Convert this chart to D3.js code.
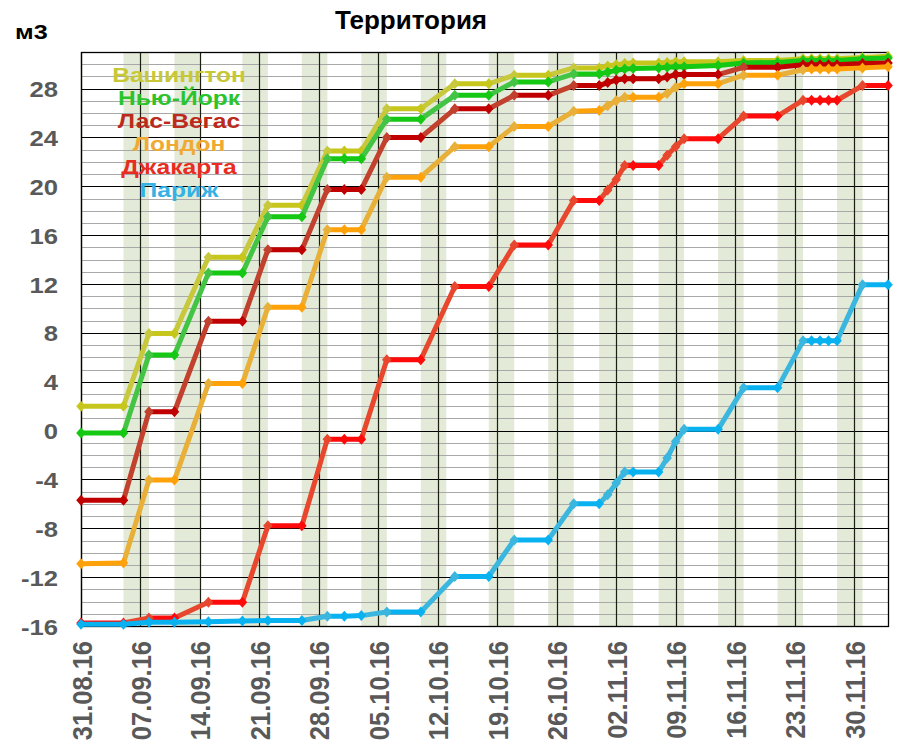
<!DOCTYPE html>
<html><head><meta charset="utf-8">
<script src="https://cdn.jsdelivr.net/npm/d3@7"></script>
<style>
body{margin:0;background:#fff}
svg{display:block}
text{font-family:"Liberation Sans",Arial,sans-serif;font-weight:bold}
</style>
</head><body>
<svg id="c" width="906" height="754"></svg>
<script>
// ---------------- DATA ----------------
const dates = ["31.08.2016","05.09.2016","08.09.2016","11.09.2016","15.09.2016","19.09.2016","22.09.2016","26.09.2016",
  "29.09.2016","01.10.2016","03.10.2016","06.10.2016","10.10.2016","14.10.2016","18.10.2016","21.10.2016","25.10.2016",
  "28.10.2016","31.10.2016","01.11.2016","02.11.2016","03.11.2016","04.11.2016","07.11.2016","08.11.2016","09.11.2016",
  "10.11.2016","14.11.2016","17.11.2016","21.11.2016","24.11.2016","25.11.2016","26.11.2016","27.11.2016","28.11.2016",
  "01.12.2016","04.12.2016"];

const washington = [2.0,2.0,7.95,7.95,14.2,14.2,18.45,18.45,22.9,22.9,22.9,26.35,26.35,28.4,28.4,29.1,29.1,29.7,29.7,
  29.85,29.95,30.05,30.1,30.1,30.15,30.2,30.2,30.2,30.3,30.3,30.45,30.45,30.45,30.45,30.45,30.55,30.65];
const newYork = [-0.2,-0.2,6.2,6.2,12.9,12.9,17.5,17.5,22.25,22.25,22.25,25.5,25.5,27.45,27.45,28.55,28.55,29.2,29.2,
  29.35,29.5,29.6,29.65,29.7,29.75,29.8,29.8,29.9,30.1,30.15,30.3,30.3,30.3,30.3,30.3,30.45,30.5];
const lasVegas = [-5.7,-5.7,1.55,1.55,8.95,8.95,14.8,14.8,19.75,19.75,19.75,24.0,24.0,26.35,26.35,27.45,27.45,28.25,28.25,
  28.5,28.7,28.8,28.8,28.8,28.95,29.15,29.15,29.15,29.75,29.75,29.95,29.95,29.95,29.95,29.95,30.05,30.1];
const london = [-10.9,-10.85,-4.05,-4.05,3.85,3.85,10.1,10.1,16.45,16.45,16.45,20.75,20.75,23.25,23.25,24.9,24.9,26.15,26.2,
  26.6,27.0,27.3,27.3,27.3,27.6,28.1,28.4,28.4,29.1,29.1,29.55,29.6,29.6,29.6,29.6,29.7,29.8];
const jakarta = [-15.75,-15.75,-15.35,-15.35,-14.05,-14.05,-7.8,-7.8,-0.7,-0.7,-0.7,5.8,5.8,11.8,11.8,15.2,15.2,18.85,18.85,
  19.7,20.55,21.7,21.7,21.7,22.55,23.25,23.9,23.9,25.75,25.75,27.05,27.05,27.05,27.05,27.05,28.25,28.25];
const paris = [-15.85,-15.85,-15.7,-15.7,-15.65,-15.6,-15.55,-15.55,-15.2,-15.2,-15.15,-14.85,-14.85,-11.95,-11.95,-8.95,-8.95,
  -6.0,-6.0,-5.25,-4.3,-3.4,-3.4,-3.4,-2.25,-0.9,0.1,0.1,3.5,3.5,7.35,7.35,7.35,7.35,7.35,11.95,11.95];

const seriesNames = ["Вашингтон","Нью-Йорк","Лас-Вегас","Лондон","Джакарта","Париж"];
const seriesValues = [washington, newYork, lasVegas, london, jakarta, paris];
const flatColors = ["#c6c61c","#14c814","#c00000","#ffa20a","#ff0a0a","#08b2f0"];
const riseColors = ["#c8c83c","#44c444","#c2402e","#e8b038","#e8472e","#3ab6df"];
const legendColors = ["#c8c836","#2cc42c","#bb2a1c","#f0aa34","#e82c22","#34b2e4"];

const bandStarts = ["05.09.2016","11.09.2016","19.09.2016","26.09.2016","03.10.2016","10.10.2016","18.10.2016",
  "25.10.2016","31.10.2016","07.11.2016","14.11.2016","21.11.2016","28.11.2016"];
const bandEnds = ["08.09.2016","14.09.2016","22.09.2016","29.09.2016","06.10.2016","13.10.2016","21.10.2016",
  "28.10.2016","04.11.2016","10.11.2016","17.11.2016","24.11.2016","01.12.2016"];

const xTickDates = ["31.08.2016","07.09.2016","14.09.2016","21.09.2016","28.09.2016","05.10.2016","12.10.2016",
  "19.10.2016","26.10.2016","02.11.2016","09.11.2016","16.11.2016","23.11.2016","30.11.2016"];
const yTicks = [-16,-12,-8,-4,0,4,8,12,16,20,24,28];
const yMinorTicks = d3.range(-16, 31, 1);

const titleText = "Территория";
const unitText = "м3";

// ---------------- CHART ----------------
const parse = d3.timeParse("%d.%m.%Y");
const L = 81, R = 888, T = 52, B = 626;
const x = d3.scaleTime().domain([parse("31.08.2016"), parse("04.12.2016")]).range([L, R]);
const y = d3.scaleLinear().domain([-16, 31]).range([B, T]);

const svg = d3.select("#c");

// bands
svg.append("g").selectAll("rect").data(bandStarts.map((s,i)=>[parse(s), parse(bandEnds[i])]))
  .join("rect")
  .attr("x", d => x(d[0])).attr("width", d => x(d[1]) - x(d[0]))
  .attr("y", T).attr("height", B - T)
  .attr("fill", "#e3ead7");

// minor grid
svg.append("g").selectAll("line").data(yMinorTicks.filter(v => v % 4 !== 0 && v < 31))
  .join("line")
  .attr("x1", L).attr("x2", R)
  .attr("y1", d => Math.round(y(d)) + 0.5).attr("y2", d => Math.round(y(d)) + 0.5)
  .attr("stroke", "#a8a8a8").attr("stroke-width", 1);

// major grid
svg.append("g").selectAll("line").data(yTicks)
  .join("line")
  .attr("x1", L).attr("x2", R)
  .attr("y1", d => Math.round(y(d)) + 0.5).attr("y2", d => Math.round(y(d)) + 0.5)
  .attr("stroke", "#000").attr("stroke-width", 1.2);

// vertical grid
svg.append("g").selectAll("line").data(xTickDates.map(parse))
  .join("line")
  .attr("x1", d => Math.round(x(d)) + 0.5).attr("x2", d => Math.round(x(d)) + 0.5)
  .attr("y1", T).attr("y2", B)
  .attr("stroke", "#1a1f12").attr("stroke-width", 1.2);

// border
svg.append("rect").attr("x", L + 0.5).attr("y", T + 0.5).attr("width", R - L).attr("height", B - T)
  .attr("fill", "none").attr("stroke", "#000").attr("stroke-width", 1.3);

// axes
const yAxis = svg.append("g").attr("transform", "translate(58,0)")
  .call(d3.axisLeft(y).tickValues(yTicks).tickSize(0).tickPadding(0).tickFormat(d => String(d)));
yAxis.select(".domain").remove();
yAxis.selectAll("text")
  .attr("fill", "#595959").style("font-size", "22.5px").style("font-family", "'Liberation Sans',Arial,sans-serif")
  .style("font-weight", "bold")
  .attr("dy", "0.36em")
  .attr("transform", "scale(1.14,1)");

const xAxis = svg.append("g").attr("transform", "translate(0,641)")
  .call(d3.axisBottom(x).tickValues(xTickDates.map(parse)).tickSize(0).tickFormat(d3.timeFormat("%d.%m.%y")));
xAxis.select(".domain").remove();
xAxis.selectAll("text")
  .attr("fill", "#595959").style("font-size", "25.5px").style("font-family", "'Liberation Sans',Arial,sans-serif")
  .style("font-weight", "bold")
  .attr("x", 0).attr("y", 0).attr("dy", 0)
  .attr("text-anchor", "end")
  .attr("transform", "translate(10,0) rotate(-90) scale(1,1.09)");

// series
const pdates = dates.map(parse);
const diamond = "M0,-5.5L4.8,0L0,5.5L-4.8,0Z";
seriesValues.forEach((vals, si) => {
  const g = svg.append("g");
  const segs = d3.range(vals.length - 1).map(i => ({i, a: vals[i], b: vals[i + 1]}));
  g.selectAll("line").data(segs).join("line")
    .attr("x1", d => x(pdates[d.i])).attr("y1", d => y(d.a))
    .attr("x2", d => x(pdates[d.i + 1])).attr("y2", d => y(d.b))
    .attr("stroke", d => Math.abs(d.b - d.a) < 0.3 ? flatColors[si] : riseColors[si])
    .attr("stroke-width", 5).attr("stroke-linecap", "round");
  g.selectAll("path").data(vals).join("path")
    .attr("d", diamond)
    .attr("transform", (v, i) => `translate(${x(pdates[i])},${y(v)})`)
    .attr("fill", (v, i) => {
      const prev = i > 0 ? vals[i - 1] : v;
      return Math.abs(v - prev) < 0.3 ? flatColors[si] : riseColors[si];
    });
});

// legend
svg.append("g").selectAll("text").data(seriesNames).join("text")
  .attr("text-anchor", "middle")
  .attr("fill", (d, i) => legendColors[i])
  .style("font-size", "20.5px")
  .attr("transform", (d, i) => `translate(179,${82 + i * 23}) scale(1.2,1)`)
  .text(d => d);

// title + unit
svg.append("text").attr("x", 411).attr("y", 29).attr("text-anchor", "middle")
  .attr("fill", "#000").style("font-size", "26px").text(titleText);
svg.append("text").attr("fill", "#000")
  .style("font-size", "21px").attr("transform", "translate(15,39) scale(1.2,1)").text(unitText);
</script>
</body></html>
